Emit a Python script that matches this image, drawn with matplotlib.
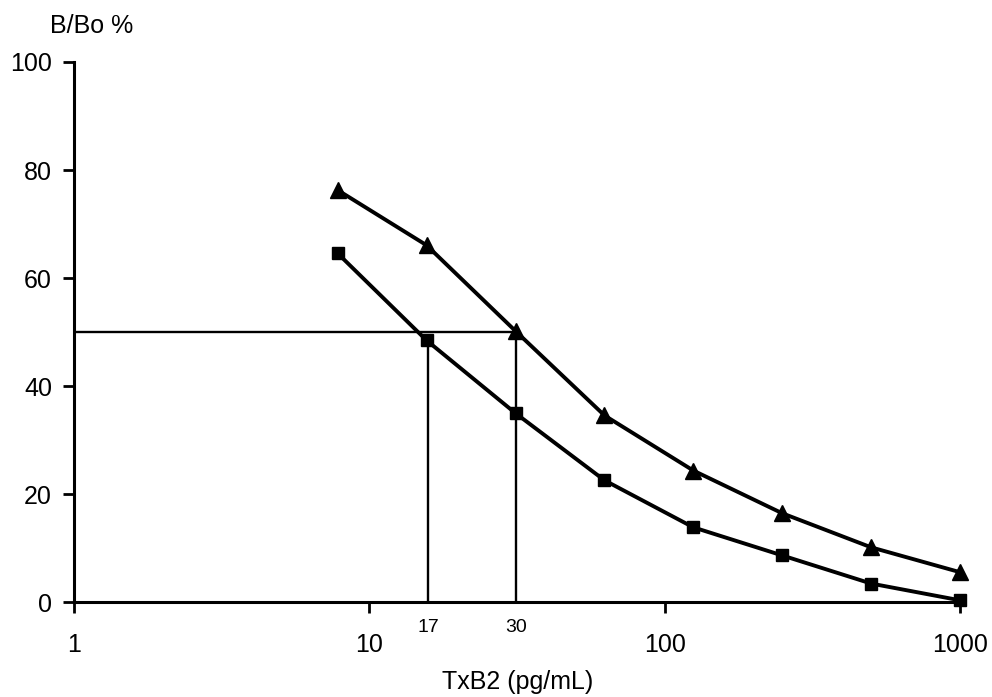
import numpy as np
import matplotlib
matplotlib.use("Agg")
import matplotlib.pyplot as plt

# TxB2 standard curves (B/Bo % vs concentration, pg/mL)
conc = [7.8, 15.6, 31.25, 62.5, 125, 250, 500, 1000]
triangle_vals = [76.3, 66.1, 50.2, 34.6, 24.4, 16.5, 10.2, 5.6]
square_vals = [64.6, 48.5, 35.0, 22.6, 13.9, 8.7, 3.5, 0.4]

# 50% read-off lines
half_level = 50
ic50_x = [15.8, 31.3]
ic50_top = [48.5, 50.2]
ic50_labels = ["17", "30"]

x_ticks = [1, 10, 100, 1000]
x_tick_labels = ["1", "10", "100", "1000"]
y_ticks = [0, 20, 40, 60, 80, 100]

plt.rcParams['font.family'] = ['Liberation Sans', 'DejaVu Sans']

fig = plt.figure(figsize=(9.92, 6.97), dpi=100)
ax = fig.add_axes([0.0748, 0.1356, 0.893, 0.7755])

ax.plot(conc, triangle_vals, color='black', lw=2.8, marker='^', markersize=11, clip_on=False, zorder=3)
ax.plot(conc, square_vals, color='black', lw=2.8, marker='s', markersize=8, clip_on=False, zorder=3)

# reference lines
ax.plot([1, ic50_x[1]], [half_level, half_level], color='black', lw=1.7, zorder=2)
for xv, top in zip(ic50_x, ic50_top):
    ax.plot([xv, xv], [0, top], color='black', lw=1.7, zorder=2)

ax.set_xscale('log')
ax.set_xlim(1, 1000)
ax.set_ylim(0, 100)

for s in ['top', 'right']:
    ax.spines[s].set_visible(False)
for s in ['left', 'bottom']:
    ax.spines[s].set_linewidth(2.2)

ax.xaxis.set_minor_locator(matplotlib.ticker.NullLocator())
ax.set_xticks(x_ticks)
ax.set_xticklabels(x_tick_labels)
ax.set_yticks(y_ticks)
ax.tick_params(axis='both', direction='out', length=8, width=2.0, labelsize=18)
ax.tick_params(axis='x', pad=14)
ax.tick_params(axis='y', pad=8)

for xv, lab in zip(ic50_x, ic50_labels):
    ax.annotate(lab, xy=(xv, 0), xycoords=('data', 'axes fraction'),
                xytext=(0, -18), textcoords='offset points',
                ha='center', va='center', fontsize=14)

fig.text(92 / 992, 1 - 26 / 697, "B/Bo %", ha='center', va='center', fontsize=18)
fig.text(518 / 992, 1 - 682 / 697, "TxB2 (pg/mL)", ha='center', va='center', fontsize=18)

fig.savefig("out.png", dpi=100)
